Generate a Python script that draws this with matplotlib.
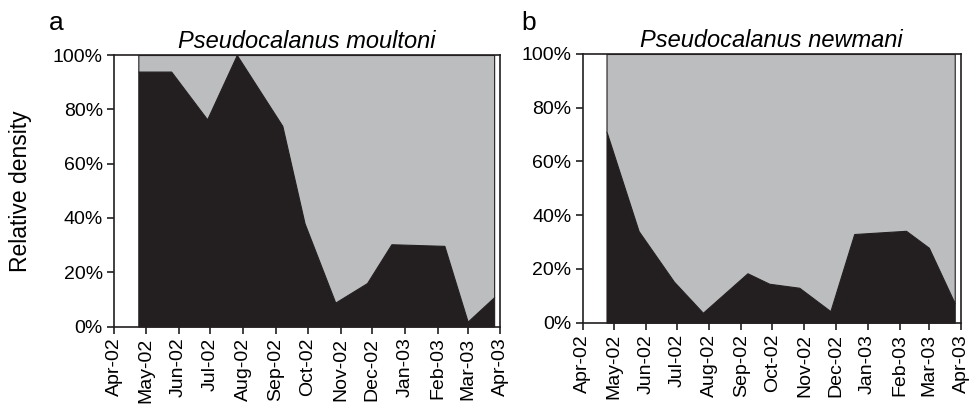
import numpy as np
import pandas as pd
import matplotlib
matplotlib.use('Agg')
import matplotlib.pyplot as plt
import matplotlib.dates as mdates
from matplotlib.ticker import FuncFormatter

# sampling dates
dates = pd.to_datetime(['2002-04-24', '2002-05-25', '2002-06-28', '2002-07-26',
                        '2002-09-07', '2002-09-28', '2002-10-27', '2002-11-26',
                        '2002-12-19', '2003-02-07', '2003-03-01', '2003-03-26'])

# relative density (%) of the dark fraction
moultoni = [93.9, 93.9, 76.3, 100.0, 73.9, 38.0, 8.8, 16.0, 30.3, 29.7, 1.8, 10.8]
newmani = [71.1, 34.1, 15.3, 3.7, 18.4, 14.5, 13.0, 4.3, 33.0, 34.2, 27.9, 7.2]

titles = ['Pseudocalanus moultoni', 'Pseudocalanus newmani']
letters = ['a', 'b']
yticks = [0, 20, 40, 60, 80, 100]

dark = '#231f20'
grey = '#bcbdbf'

plt.rcParams['font.family'] = ['Liberation Sans', 'DejaVu Sans']
fs = 14

fig = plt.figure(figsize=(9.69, 4.09), dpi=100)
ax_a = fig.add_axes([0.1176, 0.2017, 0.3989, 0.6638])
ax_b = fig.add_axes([0.6013, 0.2110, 0.3904, 0.6570])

for ax, vals, title in zip([ax_a, ax_b], [moultoni, newmani], titles):
    vals = np.array(vals)
    ax.fill_between(dates, 0, vals, facecolor=dark, edgecolor=dark, linewidth=0.8)
    ax.fill_between(dates, vals, 100, facecolor=grey, edgecolor=dark, linewidth=0.8)
    ax.set_xlim(pd.Timestamp('2002-04-01'), pd.Timestamp('2003-04-01'))
    ax.set_ylim(0, 100)
    ax.set_yticks(yticks)
    ax.yaxis.set_major_formatter(FuncFormatter(lambda v, p: f'{v:.0f}%'))
    ax.xaxis.set_major_locator(mdates.MonthLocator())
    ax.xaxis.set_major_formatter(mdates.DateFormatter('%b-%y'))
    ax.tick_params(axis='x', rotation=90, labelsize=fs, length=5, width=1.2,
                   color=dark, pad=3)
    ax.tick_params(axis='y', labelsize=fs, length=5, width=1.2, color=dark, pad=3)
    for s in ax.spines.values():
        s.set_linewidth(1.2)
        s.set_color(dark)
    ax.set_title(title, fontsize=17, style='italic', pad=5)

fig.text(0.0506, 0.9267, letters[0], fontsize=19, va='baseline', ha='left')
fig.text(0.5384, 0.9267, letters[1], fontsize=19, va='baseline', ha='left')

ax_a.set_ylabel('Relative density', fontsize=16.5)
ax_a.yaxis.set_label_coords(-0.212, 0.5)

fig.savefig('out.png', dpi=100)
